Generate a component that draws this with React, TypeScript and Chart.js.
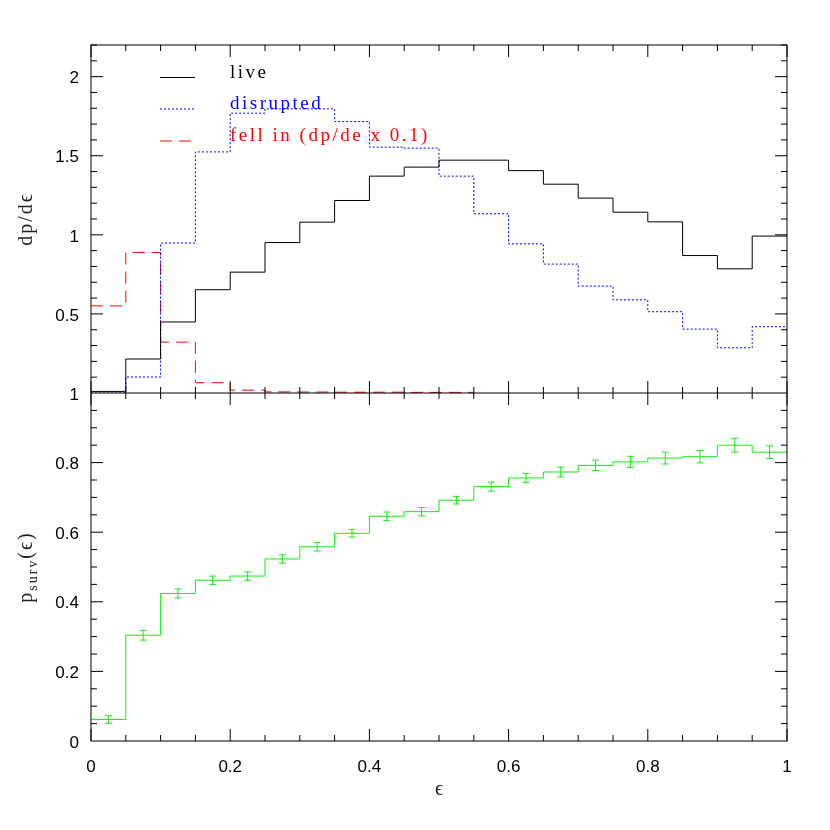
import React, { useEffect, useRef } from 'react';
import { Chart, registerables } from 'chart.js';

Chart.register(...registerables);

// ---- data ----
const binEdges = [0, 0.05, 0.1, 0.15, 0.2, 0.25, 0.3, 0.35, 0.4, 0.45, 0.5, 0.55, 0.6, 0.65, 0.7, 0.75, 0.8, 0.85, 0.9, 0.95, 1.0];
const live = [0.010, 0.215, 0.449, 0.653, 0.764, 0.951, 1.080, 1.217, 1.371, 1.428, 1.472, 1.472, 1.406, 1.320, 1.232, 1.143, 1.082, 0.869, 0.785, 0.992];
const disrupted = [0, 0.101, 0.948, 1.524, 1.769, 1.796, 1.796, 1.716, 1.554, 1.548, 1.371, 1.133, 0.943, 0.815, 0.676, 0.589, 0.514, 0.404, 0.286, 0.419];
const fellIn = [0.551, 0.888, 0.322, 0.065, 0.018, 0.007, 0.006, 0.005, 0.005, 0.004, 0.004];
const survival = [0.062, 0.304, 0.424, 0.462, 0.474, 0.523, 0.558, 0.597, 0.646, 0.659, 0.692, 0.731, 0.756, 0.773, 0.792, 0.802, 0.813, 0.817, 0.850, 0.830];
const survivalErr = [0.011, 0.014, 0.013, 0.012, 0.012, 0.012, 0.012, 0.011, 0.012, 0.012, 0.011, 0.013, 0.013, 0.014, 0.015, 0.016, 0.017, 0.018, 0.020, 0.018];

const xTickValues = [0, 0.2, 0.4, 0.6, 0.8, 1];
const xTickLabels = ['0', '0.2', '0.4', '0.6', '0.8', '1'];
const topTickValues = [0.5, 1, 1.5, 2];
const topTickLabels = ['0.5', '1', '1.5', '2'];
const bottomTickValues = [0, 0.2, 0.4, 0.6, 0.8, 1];
const bottomTickLabels = ['0', '0.2', '0.4', '0.6', '0.8', '1'];

const legendItems = [
  { text: 'live', color: '#000000', dash: [] as number[] },
  { text: 'disrupted', color: '#0000ff', dash: [2, 2] },
  { text: 'fell in (dp/de x 0.1)', color: '#ff0000', dash: [12, 7] },
];

const LIVE_COLOR = '#000000';
const DISRUPTED_COLOR = '#0000ff';
const FELL_COLOR = '#ff0000';
const SURV_COLOR = '#11ee11';

function steps(vals: number[]) {
  const pts = vals.map((v, i) => ({ x: binEdges[i], y: v }));
  pts.push({ x: binEdges[vals.length], y: vals[vals.length - 1] });
  return pts;
}

function labelFor(values: number[], labels: string[]) {
  return (value: any) => {
    const v = Number(value);
    for (let i = 0; i < values.length; i++) {
      if (Math.abs(values[i] - v) < 1e-6) return labels[i];
    }
    return '';
  };
}

const framePlugin = {
  id: 'framePlugin',
  afterDatasetsDraw(chart: any) {
    const ctx = chart.ctx;
    const ca = chart.chartArea;
    const x = chart.scales.x;
    const yTop = chart.scales.yTop;
    const yBot = chart.scales.yBot;
    const mid = yBot.top;
    ctx.save();

    // error bars
    ctx.strokeStyle = SURV_COLOR;
    ctx.lineWidth = 1;
    for (let i = 0; i < survival.length; i++) {
      const xc = x.getPixelForValue((binEdges[i] + binEdges[i + 1]) / 2);
      const y1 = yBot.getPixelForValue(survival[i] - survivalErr[i]);
      const y2 = yBot.getPixelForValue(survival[i] + survivalErr[i]);
      ctx.beginPath();
      ctx.moveTo(xc, y1);
      ctx.lineTo(xc, y2);
      ctx.moveTo(xc - 3.5, y1);
      ctx.lineTo(xc + 3.5, y1);
      ctx.moveTo(xc - 3.5, y2);
      ctx.lineTo(xc + 3.5, y2);
      ctx.stroke();
    }

    // frame
    ctx.strokeStyle = '#000';
    ctx.lineWidth = 1;
    ctx.setLineDash([]);
    ctx.strokeRect(ca.left, ca.top, ca.right - ca.left, ca.bottom - ca.top);
    ctx.beginPath();
    ctx.moveTo(ca.left, mid);
    ctx.lineTo(ca.right, mid);
    ctx.stroke();

    const MAJ = 12, MIN = 6;
    ctx.beginPath();
    // x ticks
    for (let k = 0; k <= 20; k++) {
      const v = k * 0.05;
      const px = x.getPixelForValue(v);
      const len = k % 4 === 0 ? MAJ : MIN;
      ctx.moveTo(px, ca.bottom); ctx.lineTo(px, ca.bottom - len);
      ctx.moveTo(px, ca.top); ctx.lineTo(px, ca.top + len);
      ctx.moveTo(px, mid - len); ctx.lineTo(px, mid + len);
    }
    // top panel y ticks
    for (let k = 1; k <= 22; k++) {
      const py = yTop.getPixelForValue(k * 0.1);
      const len = k % 5 === 0 ? MAJ : MIN;
      ctx.moveTo(ca.left, py); ctx.lineTo(ca.left + len, py);
      ctx.moveTo(ca.right, py); ctx.lineTo(ca.right - len, py);
    }
    // bottom panel y ticks
    for (let k = 1; k < 20; k++) {
      const py = yBot.getPixelForValue(k * 0.05);
      const len = k % 4 === 0 ? MAJ : MIN;
      ctx.moveTo(ca.left, py); ctx.lineTo(ca.left + len, py);
      ctx.moveTo(ca.right, py); ctx.lineTo(ca.right - len, py);
    }
    ctx.stroke();

    // legend
    const baselines = [32.5, 64, 96];
    ctx.font = '19px "Liberation Serif"';
    (ctx as any).letterSpacing = '2.5px';
    ctx.textAlign = 'left';
    ctx.textBaseline = 'alphabetic';
    legendItems.forEach((it, i) => {
      const by = ca.top + baselines[i];
      ctx.strokeStyle = it.color;
      ctx.setLineDash(it.dash);
      ctx.beginPath();
      ctx.moveTo(ca.left + 69, by);
      ctx.lineTo(ca.left + 104, by);
      ctx.stroke();
      ctx.setLineDash([]);
      ctx.fillStyle = it.color;
      ctx.fillText(it.text, ca.left + 139, by);
    });

    // axis titles
    (ctx as any).letterSpacing = '2px';
    ctx.fillStyle = '#222';
    ctx.font = '20px "Liberation Serif", "DejaVu Serif", serif';
    ctx.save();
    ctx.translate(19, (yTop.top + yTop.bottom) / 2);
    ctx.rotate(-Math.PI / 2);
    ctx.textAlign = 'center';
    ctx.textBaseline = 'middle';
    ctx.fillText('dp/d\u03F5', 0, 0);
    ctx.restore();

    ctx.save();
    ctx.translate(19, (yBot.top + yBot.bottom) / 2);
    ctx.rotate(-Math.PI / 2);
    ctx.textBaseline = 'middle';
    ctx.textAlign = 'left';
    const bigFont = '20px "Liberation Serif", "DejaVu Serif", serif';
    const smallFont = '14px "Liberation Serif", "DejaVu Serif", serif';
    ctx.font = bigFont;
    const wP = ctx.measureText('p').width;
    const wParen = ctx.measureText('(\u03F5)').width;
    ctx.font = smallFont;
    const wSub = ctx.measureText('surv').width;
    const total = wP + wSub + wParen;
    let cx = -total / 2;
    ctx.font = bigFont;
    ctx.fillText('p', cx, 0);
    cx += wP;
    ctx.font = smallFont;
    ctx.fillText('surv', cx, 6);
    cx += wSub;
    ctx.font = bigFont;
    ctx.fillText('(\u03F5)', cx, 0);
    ctx.restore();

    (ctx as any).letterSpacing = '0px';
    ctx.font = '20px "Liberation Serif", "DejaVu Serif", serif';
    ctx.textAlign = 'center';
    ctx.textBaseline = 'middle';
    ctx.fillText('\u03F5', (ca.left + ca.right) / 2, ca.bottom + 49);

    ctx.restore();
  },
};

const tickFont = { family: 'Liberation Sans', size: 17 };

export default function App() {
  const ref = useRef<HTMLCanvasElement | null>(null);
  useEffect(() => {
    if (!ref.current) return;
    const common = { pointRadius: 0, borderWidth: 1, fill: false, stepped: 'before' as const };
    const chart = new Chart(ref.current, {
      type: 'line',
      data: {
        datasets: [
          { ...common, label: 'live', data: steps(live), yAxisID: 'yTop', borderColor: LIVE_COLOR },
          { ...common, label: 'disrupted', data: steps(disrupted), yAxisID: 'yTop', borderColor: DISRUPTED_COLOR, borderDash: [2, 2] },
          { ...common, label: 'fell in', data: steps(fellIn), yAxisID: 'yTop', borderColor: FELL_COLOR, borderDash: [12, 7] },
          { ...common, label: 'psurv', data: steps(survival), yAxisID: 'yBot', borderColor: SURV_COLOR },
        ],
      },
      options: {
        animation: false,
        responsive: false,
        devicePixelRatio: 1,
        layout: { padding: { left: 0, top: 37, right: 35, bottom: 0 } },
        plugins: { legend: { display: false }, tooltip: { enabled: false } },
        scales: {
          x: {
            type: 'linear', min: 0, max: 1, position: 'bottom',
            grid: { display: false, drawTicks: false }, border: { display: false },
            ticks: { stepSize: 0.2, padding: 16, color: '#000', font: tickFont, maxRotation: 0, callback: labelFor(xTickValues, xTickLabels) },
            afterFit: (s: any) => { s.height = 81; },
          },
          yBot: {
            type: 'linear', min: 0, max: 1, position: 'left', stack: 'v', stackWeight: 1,
            grid: { display: false, drawTicks: false }, border: { display: false },
            ticks: { stepSize: 0.2, padding: 12, labelOffset: 2, color: '#000', font: tickFont, callback: labelFor(bottomTickValues, bottomTickLabels) },
            afterFit: (s: any) => { s.width = 83; },
          },
          yTop: {
            type: 'linear', min: 0, max: 2.2, position: 'left', stack: 'v', stackWeight: 1,
            grid: { display: false, drawTicks: false }, border: { display: false },
            ticks: { stepSize: 0.5, includeBounds: false, padding: 12, labelOffset: 2, color: '#000', font: tickFont, callback: labelFor(topTickValues, topTickLabels) },
            afterFit: (s: any) => { s.width = 83; },
          },
        },
      } as any,
      plugins: [framePlugin],
    });
    return () => chart.destroy();
  }, []);
  return (
    <div style={{ width: 814, height: 814 }}>
      <canvas ref={ref} width={814} height={814} />
    </div>
  );
}
